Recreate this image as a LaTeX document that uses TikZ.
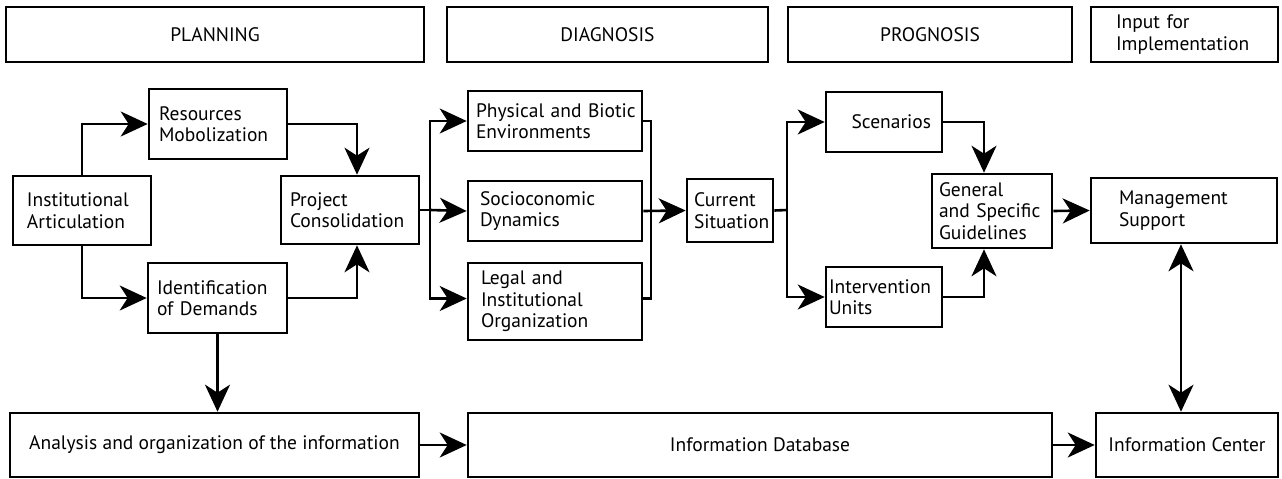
\documentclass[tikz,border=0pt]{standalone}
\usepackage{fontspec}
\setmainfont{PT Sans}
\usetikzlibrary{arrows.meta,calc}

\tikzset{
  box/.style={draw, line width=2.6pt, inner sep=0pt, align=center,
    font=\fontsize{19.5}{21.5}\selectfont},
  lbox/.style={box, align=left},
  conn/.style={line width=2.6pt},
  arr/.style={conn, -{Stealth[length=27pt,width=25pt,inset=8pt]}},
  darr/.style={conn, {Stealth[length=27pt,width=25pt,inset=8pt]}-{Stealth[length=27pt,width=25pt,inset=8pt]}},
}

\begin{document}
\begin{tikzpicture}[x=1pt,y=-1pt]
\useasboundingbox (0,0) rectangle (1282,479);

% phase headers
\node[box, minimum width=418, minimum height=55] (planning) at (215,34.5) {PLANNING};
\node[box, minimum width=321, minimum height=55] (diagnosis) at (607.5,34.5) {DIAGNOSIS};
\node[box, minimum width=284, minimum height=55] (prognosis) at (930,34.5) {PROGNOSIS};
\node[lbox, minimum width=187, minimum height=55, inner xsep=25pt, text width=137pt] (input) at (1184.5,34.5) {Input for\\Implementation};

% planning
\node[lbox, minimum width=138, minimum height=69, inner xsep=14pt, text width=110pt] (inst) at (82,210.5) {Institutional\\Articulation};
\node[lbox, minimum width=138, minimum height=70, inner xsep=10pt, text width=118pt] (res) at (218,124) {Resources\\Mobolization};
\node[lbox, minimum width=139, minimum height=70, inner xsep=9pt, text width=121pt] (ident) at (217.5,298) {Identification\\of Demands};
\node[lbox, minimum width=138, minimum height=68, inner xsep=9pt, text width=120pt] (proj) at (350,210) {Project\\Consolidation};

% diagnosis
\node[lbox, minimum width=174, minimum height=60, inner xsep=8pt, text width=158pt] (phys) at (555,121) {\mbox{Physical and Biotic}\\Environments};
\node[lbox, minimum width=174, minimum height=60, inner xsep=12pt, text width=150pt] (socio) at (555,211) {Socioconomic\\Dynamics};
\node[lbox, minimum width=174, minimum height=77, inner xsep=13pt, text width=148pt] (legal) at (555,301.5) {Legal and\\Institutional\\Organization};
\node[lbox, minimum width=86, minimum height=63, inner xsep=7pt, text width=72pt] (current) at (730,210.5) {Current\\Situation};

% prognosis
\node[box, align=right, minimum width=116, minimum height=60, inner xsep=11pt, text width=94pt] (scen) at (884,122) {Scenarios};
\node[lbox, minimum width=116, minimum height=60, inner xsep=3pt, text width=110pt] (interv) at (884,297) {Intervention\\Units};
\node[lbox, minimum width=120, minimum height=74, inner xsep=7pt, text width=106pt] (general) at (992,211) {General\\and Specific\\Guidelines};

% implementation
\node[lbox, minimum width=186, minimum height=65, inner xsep=28pt, text width=130pt] (mgmt) at (1184,210.5) {Management\\Support};

% information row
\node[box, minimum width=409, minimum height=64] (analysis) at (214.5,445) {Analysis and organization of the information};
\node[box, minimum width=584, minimum height=64] (database) at (760,445) {Information Database};
\node[box, minimum width=182, minimum height=64] (center) at (1187,445) {Information Center};

% bus junctions
\coordinate (b1) at (430,210);
\coordinate (b2) at (651,210);
\coordinate (b3) at (787,210);
\coordinate (vx) at (1181,0);

% planning connectors
\draw[arr] (inst.north) |- (res.west);
\draw[arr] (inst.south) |- (ident.west);
\draw[arr] (res.east) -| ([xshift=7pt]proj.north);
\draw[arr] (ident.east) -| ([xshift=7pt]proj.south);

% diagnosis connectors
\draw[conn] (proj.east) -- (b1);
\draw[arr] (b1) |- (phys.west);
\draw[arr] (b1) -- (socio.west);
\draw[arr] (b1) |- ([yshift=3pt]legal.west);
\draw[conn] (phys.east) -| (b2) |- ([yshift=3pt]legal.east);
\draw[arr] (socio.east) -- (current.west);

% prognosis connectors
\draw[conn] (current.east) -- (b3);
\draw[arr] (b3) |- (scen.west);
\draw[arr] (b3) |- (interv.west);
\draw[arr] (scen.east) -| ([xshift=-8pt]general.north);
\draw[arr] (interv.east) -| ([xshift=-8pt]general.south);
\draw[arr] (general.east) -- (mgmt.west);

% information flow
\draw[arr] (ident.south) -- (ident.south |- analysis.north);
\draw[arr] (analysis.east) -- (database.west);
\draw[arr] (database.east) -- (center.west);
\draw[darr] (vx |- mgmt.south) -- (vx |- center.north);
\end{tikzpicture}
\end{document}
